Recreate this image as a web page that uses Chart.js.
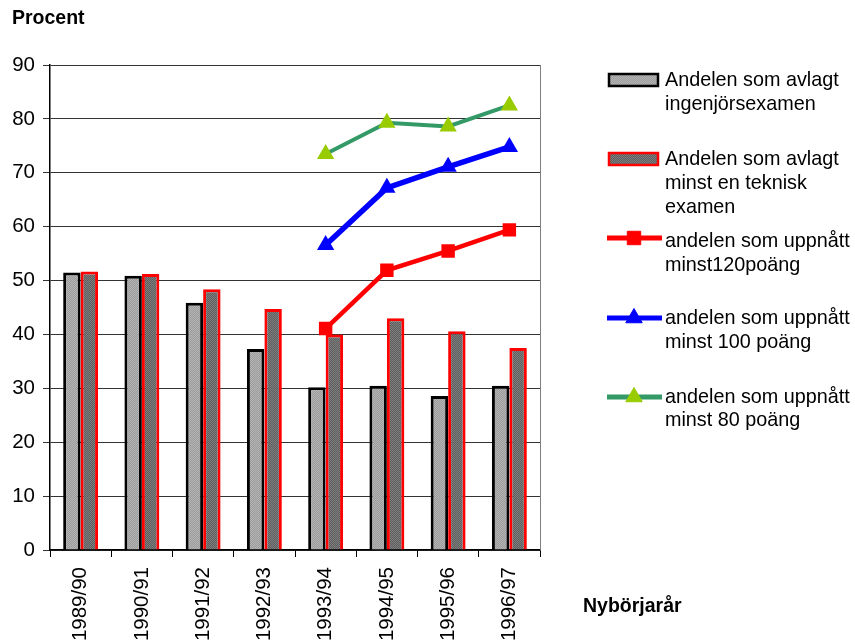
<!DOCTYPE html>
<html>
<head>
<meta charset="utf-8">
<script src="https://cdn.jsdelivr.net/npm/chart.js@4.4.0/dist/chart.umd.min.js"></script>
<style>
  html, body { margin: 0; padding: 0; background: #fff; overflow: hidden; }
  #wrap { position: relative; width: 855px; height: 642px; }
</style>
</head>
<body>
<div id="wrap"><canvas id="chart" width="855" height="642"></canvas></div>
<script>
// Data
const years = ['1989/90', '1990/91', '1991/92', '1992/93', '1993/94', '1994/95', '1995/96', '1996/97'];
const ingenjorsexamen = [51.5, 50.9, 45.9, 37.3, 30.2, 30.5, 28.6, 30.5];
const tekniskExamen = [51.7, 51.2, 48.4, 44.7, 40.0, 43.0, 40.6, 37.5];
const minst120 = [null, null, null, null, 41.1, 51.9, 55.5, 59.4];
const minst100 = [null, null, null, null, 56.6, 67.2, 71.1, 74.8];
const minst80 = [null, null, null, null, 73.5, 79.3, 78.6, 82.5];
const yTicks = [0, 10, 20, 30, 40, 50, 60, 70, 80, 90];

const FONT = "'Liberation Sans', Arial, sans-serif";

// dithered fills like the original
function makePattern(a, b) {
  const c = document.createElement('canvas');
  c.width = 2; c.height = 2;
  const x = c.getContext('2d');
  x.fillStyle = a; x.fillRect(0, 0, 2, 2);
  x.fillStyle = b; x.fillRect(0, 0, 1, 1); x.fillRect(1, 1, 1, 1);
  return x.createPattern(c, 'repeat');
}
const ctx = document.getElementById('chart').getContext('2d');
const lightFill = makePattern('#9c9c9c', '#b4b4b4');
const darkFill = makePattern('#5e5e5e', '#7e7e7e');

const legendItems = [
  { type: 'box', fill: lightFill, border: '#000', y: 80, lines: ['Andelen som avlagt', 'ingenjörsexamen'], ty: [81, 105] },
  { type: 'box', fill: darkFill, border: '#ff0000', y: 159, lines: ['Andelen som avlagt', 'minst en teknisk', 'examen'], ty: [160, 184, 208] },
  { type: 'line', color: '#ff0000', mark: '#ff0000', style: 'rect', r: 9.5, y: 238, lines: ['andelen som uppnått', 'minst120poäng'], ty: [242, 266] },
  { type: 'line', color: '#0000ff', mark: '#0000ff', style: 'triangle', r: 9.5, y: 318, lines: ['andelen som uppnått', 'minst 100 poäng'], ty: [319, 343] },
  { type: 'line', color: '#339966', mark: '#99cc00', style: 'triangle', r: 9.5, y: 397, lines: ['andelen som uppnått', 'minst 80 poäng'], ty: [398, 421] }
];

const extras = {
  id: 'extras',
  afterDraw(chart) {
    const c = chart.ctx, a = chart.chartArea;
    c.save();
    // right frame line
    c.strokeStyle = '#808080'; c.lineWidth = 1;
    c.beginPath(); c.moveTo(a.right + 0.5, a.top); c.lineTo(a.right + 0.5, a.bottom); c.stroke();

    // titles
    c.fillStyle = '#000';
    c.textBaseline = 'middle'; c.textAlign = 'left';
    c.font = 'bold 19.5px ' + FONT;
    c.fillText('Procent', 12, 19);
    c.fillText('Nybörjarår', 583, 607);

    // legend
    c.font = '19.8px ' + FONT;
    legendItems.forEach(it => {
      if (it.type === 'box') {
        c.fillStyle = it.fill;
        c.fillRect(608, it.y - 7, 51, 14);
        c.strokeStyle = it.border; c.lineWidth = 2.5;
        c.strokeRect(609, it.y - 6, 49, 12);
      } else {
        c.strokeStyle = it.color; c.lineWidth = 5;
        c.beginPath(); c.moveTo(607, it.y); c.lineTo(662, it.y); c.stroke();
        c.fillStyle = it.mark; c.strokeStyle = it.mark; c.lineWidth = 1;
        Chart.helpers.drawPoint(c, { pointStyle: it.style, radius: it.r, borderWidth: 1 }, 634, it.y);
      }
      c.fillStyle = '#000';
      it.lines.forEach((t, i) => c.fillText(t, 665, it.ty[i]));
    });
    c.restore();
  }
};

new Chart(ctx, {
  data: {
    labels: years,
    datasets: [
      { type: 'bar', label: 'Andelen som avlagt ingenjörsexamen', data: ingenjorsexamen,
        backgroundColor: lightFill, borderColor: '#000', borderWidth: 3, order: 1 },
      { type: 'bar', label: 'Andelen som avlagt minst en teknisk examen', data: tekniskExamen,
        backgroundColor: darkFill, borderColor: '#ff0000', borderWidth: 3, order: 1 },
      { type: 'line', label: 'andelen som uppnått minst120poäng', data: minst120,
        borderColor: '#ff0000', backgroundColor: '#ff0000', borderWidth: 4.5,
        pointStyle: 'rect', pointRadius: 9.5, pointBorderWidth: 0, order: 0 },
      { type: 'line', label: 'andelen som uppnått minst 100 poäng', data: minst100,
        borderColor: '#0000ff', backgroundColor: '#0000ff', borderWidth: 5.5,
        pointStyle: 'triangle', pointRadius: 10, pointBorderWidth: 0, order: 0 },
      { type: 'line', label: 'andelen som uppnått minst 80 poäng', data: minst80,
        borderColor: '#339966', backgroundColor: '#99cc00', borderWidth: 4,
        pointStyle: 'triangle', pointRadius: 10, pointBorderWidth: 0, order: 0 }
    ]
  },
  options: {
    responsive: false,
    animation: false,
    layout: { padding: { top: 65, right: 315, left: 0, bottom: 0 } },
    datasets: { bar: { categoryPercentage: 0.57, barPercentage: 1 } },
    plugins: { legend: { display: false }, tooltip: { enabled: false } },
    scales: {
      x: {
        offset: true,
        grid: { display: true, drawOnChartArea: false, drawTicks: true, tickLength: 7, color: '#000', offset: true },
        border: { color: '#000', width: 1.5 },
        ticks: { color: '#000', font: { family: FONT, size: 20.5 }, minRotation: 90, maxRotation: 90, padding: 10 },
        afterFit(s) { s.height = 92; }
      },
      y: {
        min: 0, max: 90,
        afterBuildTicks(s) { s.ticks = yTicks.map(v => ({ value: v })); },
        grid: { color: '#333', lineWidth: 1, tickLength: 7 },
        border: { color: '#000', width: 1.5 },
        ticks: { color: '#000', font: { family: FONT, size: 20.5 }, padding: 8 },
        afterFit(s) { s.width = 50; }
      }
    }
  },
  plugins: [extras]
});
</script>
</body>
</html>
